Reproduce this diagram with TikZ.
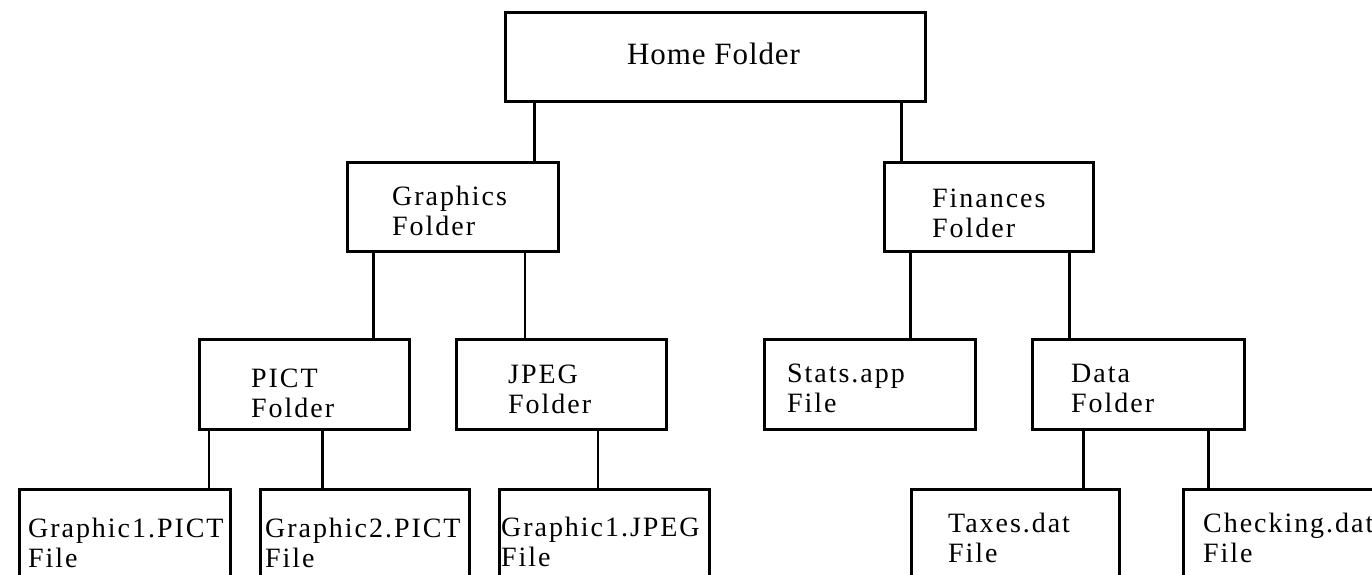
\documentclass[tikz,border=0pt]{standalone}
\usepackage{fontspec}
\setmainfont{Liberation Serif}
\begin{document}
\begin{tikzpicture}[x=1pt,y=-1pt,
  box/.style={draw, line width=3pt, anchor=north west, inner sep=0pt, minimum height=89pt},
  filebox/.style={box, minimum height=140pt},
  txt/.style={anchor=base west, inner sep=0pt, align=left, font=\fontsize{28}{30}\selectfont\addfontfeature{LetterSpace=7}},
  hometxt/.style={anchor=base west, inner sep=0pt, font=\fontsize{31}{33}\selectfont\addfontfeature{LetterSpace=3}},
  link/.style={line width=3pt},
  thinlink/.style={line width=2.2pt}]
\useasboundingbox (0,0) rectangle (1372,575);
\clip (0,0) rectangle (1372,575);
% boxes
\node[box, minimum width=420pt] (home) at (504,11) {};
\node[box, minimum width=211pt] (graphics) at (346,161) {};
\node[box, minimum width=209pt] (finances) at (883,161) {};
\node[box, minimum width=210pt, minimum height=90pt] (pict) at (198,338) {};
\node[box, minimum width=210pt, minimum height=90pt] (jpeg) at (455,338) {};
\node[box, minimum width=211pt, minimum height=90pt] (stats) at (763,338) {};
\node[box, minimum width=212pt, minimum height=90pt] (data) at (1031,338) {};
\node[filebox, minimum width=211pt] (g1pict) at (18,488) {};
\node[filebox, minimum width=209pt] (g2pict) at (259,488) {};
\node[filebox, minimum width=210pt] (g1jpeg) at (498,488) {};
\node[filebox, minimum width=208pt] (taxes) at (910,488) {};
\node[filebox, minimum width=230pt] (checking) at (1182,488) {};
% texts (anchor = baseline of the last line)
\node[hometxt] (hometext) at (627,65) {Home Folder};
\node[txt] (graphicstext) at (392,235) {Graphics\\Folder};
\node[txt] (financestext) at (932,237) {Finances\\Folder};
\node[txt] (picttext) at (251,417) {PICT\\Folder};
\node[txt] (jpegtext) at (508,413) {JPEG\\Folder};
\node[txt] (statstext) at (787,412) {Stats.app\\File};
\node[txt] (datatext) at (1071,412) {Data\\Folder};
\node[txt] (g1picttext) at (28,567) {Graphic1.PICT\\File};
\node[txt] (g2picttext) at (265,567) {Graphic2.PICT\\File};
\node[txt] (g1jpegtext) at (501,566) {Graphic1.JPEG\\File};
\node[txt] (taxestext) at (948,562) {Taxes.dat\\File};
\node[txt] (checkingtext) at (1203,562) {Checking.dat\\File};
% connectors
\draw[link] ([xshift=-26pt]graphics.north east |- home.south) -- ([xshift=-26pt]graphics.north east);
\draw[link] ([xshift=18pt]finances.north west |- home.south) -- ([xshift=18pt]finances.north west);
\draw[link] ([xshift=175pt]pict.north west |- graphics.south) -- ([xshift=175pt]pict.north west);
\draw[thinlink] ([xshift=70pt]jpeg.north west |- graphics.south) -- ([xshift=70pt]jpeg.north west);
\draw[link] ([xshift=147pt]stats.north west |- finances.south) -- ([xshift=147pt]stats.north west);
\draw[link] ([xshift=38pt]data.north west |- finances.south) -- ([xshift=38pt]data.north west);
\draw[thinlink] ([xshift=191pt]g1pict.north west |- pict.south) -- ([xshift=191pt]g1pict.north west);
\draw[link] ([xshift=63pt]g2pict.north west |- pict.south) -- ([xshift=63pt]g2pict.north west);
\draw[thinlink] ([xshift=100pt]g1jpeg.north west |- jpeg.south) -- ([xshift=100pt]g1jpeg.north west);
\draw[link] ([xshift=173pt]taxes.north west |- data.south) -- ([xshift=173pt]taxes.north west);
\draw[link] ([xshift=26pt]checking.north west |- data.south) -- ([xshift=26pt]checking.north west);
\end{tikzpicture}
\end{document}
